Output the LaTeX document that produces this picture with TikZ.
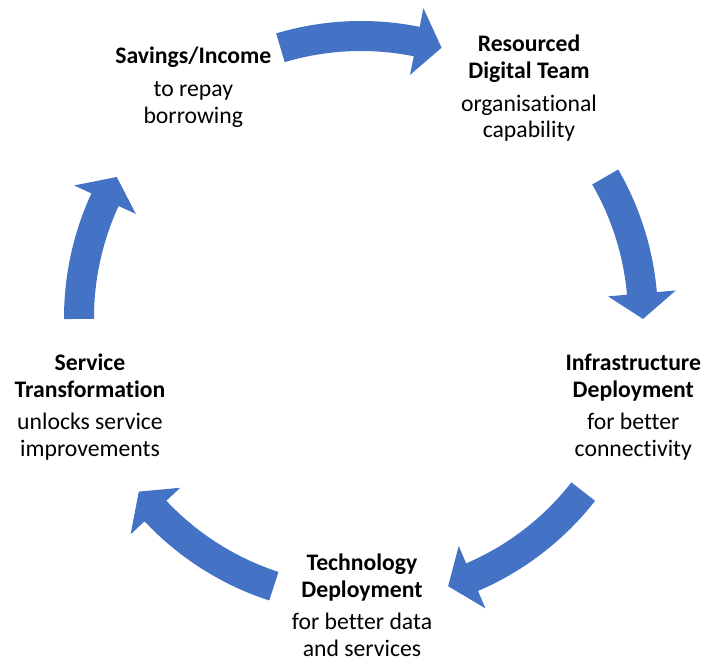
\documentclass[tikz,border=0pt]{standalone}
\usepackage{fontspec}
\setmainfont[Ligatures=NoCommon]{Carlito}

\definecolor{ringblue}{RGB}{68,114,196}

% curved block arrow on the ring, running clockwise from angle #1 to angle #2
\newcommand{\ringarrow}[2]{%
	\fill[ringblue] (#1:297) arc[start angle=#1, end angle=#2+5.2, radius=297]
		-- (#2+5.2:316) -- (#2:282) -- (#2+5.2:248) -- (#2+5.2:267)
		arc[start angle=#2+5.2, end angle=#1, radius=267] -- cycle;}

\begin{document}
\begin{tikzpicture}[x=1pt, y=1pt,
	stage/.style={align=center, anchor=base, inner sep=0pt,
		font=\fontsize{23.7}{26.8}\selectfont}]

	\useasboundingbox (-361, -342) rectangle (342, 318);

	% arrows between the steps
	\ringarrow{106.6}{73.4}
	\ringarrow{30}{-0.2}
	\ringarrow{-38}{-72}
	\ringarrow{-108}{-142}
	\ringarrow{180.2}{150}
%	\draw[gray] (0,0) circle (282);

	% the five steps of the cycle (placed at the baseline of their last line)
	\node[stage] (savings) at (-167.7, 194.7) {\textbf{Savings/Income}\\[6pt]to repay\\borrowing};
	\node[stage] (team) at (168, 180) {\textbf{Resourced}\\\textbf{Digital Team}\\[6pt]organisational\\capability};
	\node[stage] (infra) at (272.3, -138.7) {\textbf{Infrastructure}\\\textbf{Deployment}\\[6pt]for better\\connectivity};
	\node[stage] (tech) at (1, -338.7) {\textbf{Technology}\\\textbf{Deployment}\\[6pt]for better data\\and services};
	\node[stage] (service) at (-271, -138.7) {\textbf{Service}\\\textbf{Transformation}\\[6pt]unlocks service\\improvements};

\end{tikzpicture}
\end{document}
